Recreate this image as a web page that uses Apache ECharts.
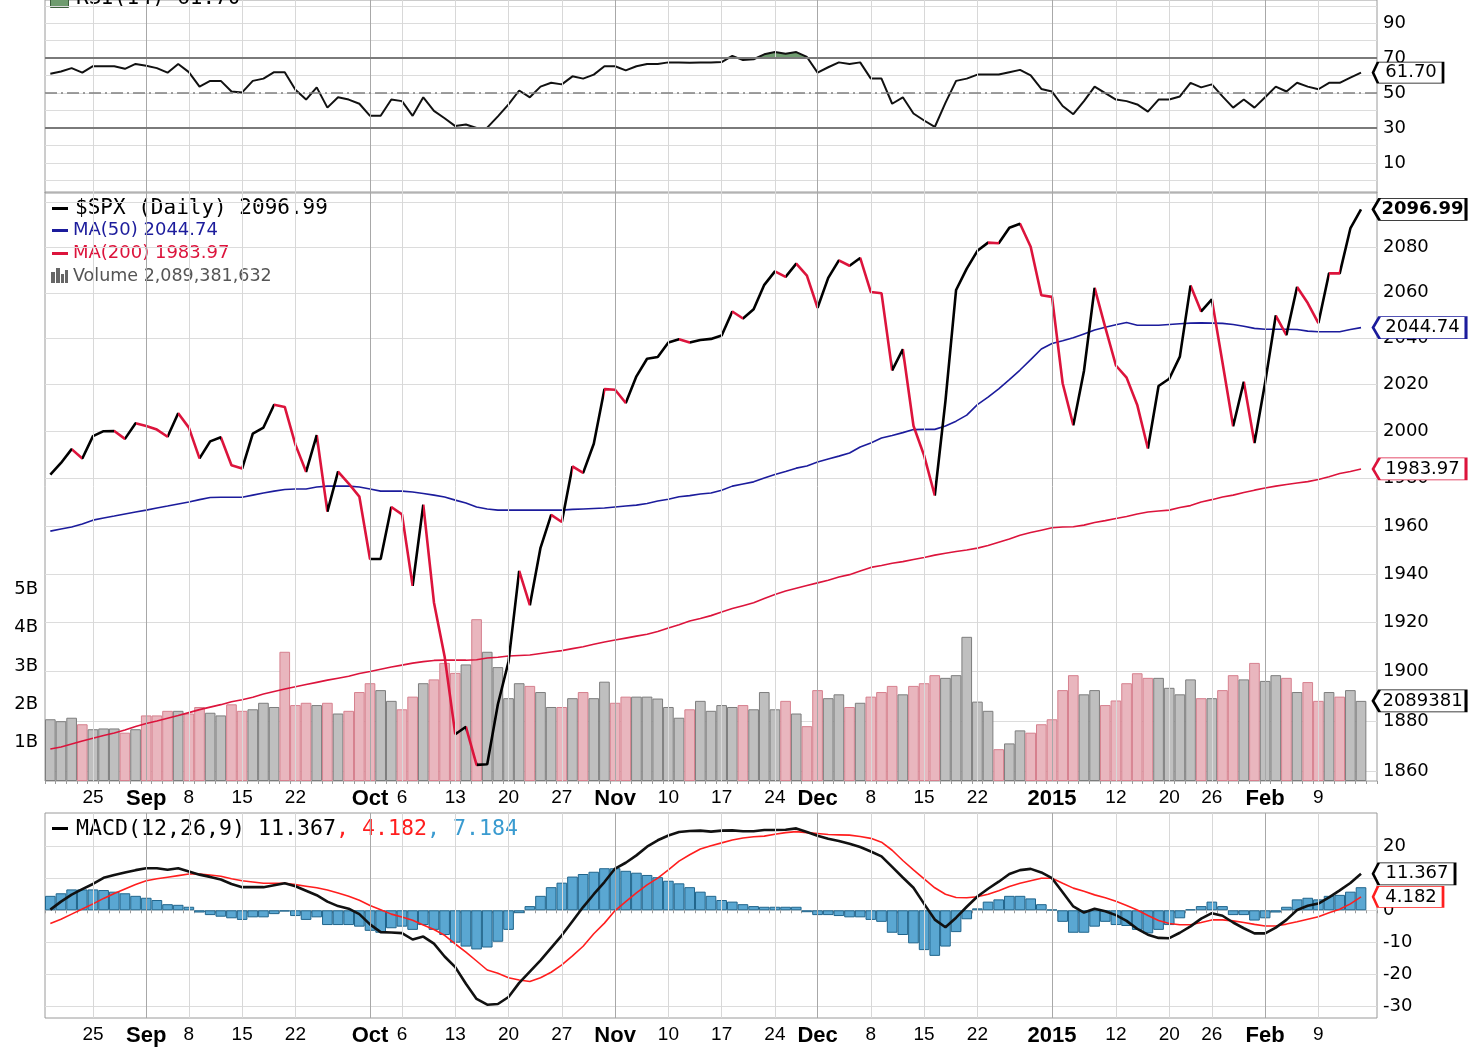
<!DOCTYPE html>
<html><head><meta charset="utf-8">
<script src="https://cdn.jsdelivr.net/npm/echarts/dist/echarts.min.js"></script>
<style>html,body{margin:0;padding:0;background:#fff}#c{width:1481px;height:1049px}</style>
</head><body><div id="c"></div>
<script>
const dates = ['2014-08-19','2014-08-20','2014-08-21','2014-08-22','2014-08-25','2014-08-26','2014-08-27','2014-08-28','2014-08-29',
'2014-09-02','2014-09-03','2014-09-04','2014-09-05','2014-09-08','2014-09-09','2014-09-10','2014-09-11','2014-09-12','2014-09-15','2014-09-16','2014-09-17','2014-09-18','2014-09-19','2014-09-22','2014-09-23','2014-09-24','2014-09-25','2014-09-26','2014-09-29','2014-09-30',
'2014-10-01','2014-10-02','2014-10-03','2014-10-06','2014-10-07','2014-10-08','2014-10-09','2014-10-10','2014-10-13','2014-10-14','2014-10-15','2014-10-16','2014-10-17','2014-10-20','2014-10-21','2014-10-22','2014-10-23','2014-10-24','2014-10-27','2014-10-28','2014-10-29','2014-10-30','2014-10-31',
'2014-11-03','2014-11-04','2014-11-05','2014-11-06','2014-11-07','2014-11-10','2014-11-11','2014-11-12','2014-11-13','2014-11-14','2014-11-17','2014-11-18','2014-11-19','2014-11-20','2014-11-21','2014-11-24','2014-11-25','2014-11-26','2014-11-28',
'2014-12-01','2014-12-02','2014-12-03','2014-12-04','2014-12-05','2014-12-08','2014-12-09','2014-12-10','2014-12-11','2014-12-12','2014-12-15','2014-12-16','2014-12-17','2014-12-18','2014-12-19','2014-12-22','2014-12-23','2014-12-24','2014-12-26','2014-12-29','2014-12-30','2014-12-31',
'2015-01-02','2015-01-05','2015-01-06','2015-01-07','2015-01-08','2015-01-09','2015-01-12','2015-01-13','2015-01-14','2015-01-15','2015-01-16','2015-01-20','2015-01-21','2015-01-22','2015-01-23','2015-01-26','2015-01-27','2015-01-28','2015-01-29','2015-01-30',
'2015-02-02','2015-02-03','2015-02-04','2015-02-05','2015-02-06','2015-02-09','2015-02-10','2015-02-11','2015-02-12','2015-02-13'];

const close = [1981.60,1986.51,1992.37,1988.40,1997.92,2000.02,2000.12,1996.74,2003.37,
2002.28,2000.72,1997.65,2007.71,2001.54,1988.44,1995.69,1997.45,1985.54,1984.13,1998.98,2001.57,2011.36,2010.40,1994.29,1982.77,1998.30,1965.99,1982.85,1977.80,1972.29,
1946.16,1946.17,1967.90,1964.82,1935.10,1968.89,1928.21,1906.13,1874.74,1877.70,1862.49,1862.76,1886.76,1904.01,1941.28,1927.11,1950.82,1964.58,1961.63,1985.05,1982.30,1994.65,2018.05,
2017.81,2012.10,2023.57,2031.21,2031.92,2038.26,2039.68,2038.25,2039.33,2039.82,2041.32,2051.80,2048.72,2052.75,2063.50,2069.41,2067.03,2072.83,2067.56,
2053.44,2066.55,2074.33,2071.92,2075.37,2060.31,2059.82,2026.14,2035.33,2002.33,1989.63,1972.74,2012.89,2061.23,2070.65,2078.54,2082.17,2081.88,2088.77,2090.57,2080.35,2058.90,
2058.20,2020.58,2002.61,2025.90,2062.14,2044.81,2028.26,2023.03,2011.27,1992.67,2019.42,2022.55,2032.12,2063.15,2051.82,2057.09,2029.55,2002.16,2021.25,1994.99,
2020.85,2050.03,2041.51,2062.52,2055.47,2046.74,2068.59,2068.53,2088.48,2096.99];

const ma50 = [1957.8,1958.7,1959.5,1960.8,1962.4,1963.3,1964.1,1965.0,1965.8,1966.6,
1967.5,1968.3,1969.2,1970.0,1971.0,1971.9,1972.0,1972.0,1972.0,1972.9,
1973.8,1974.6,1975.3,1975.5,1975.5,1976.3,1976.7,1976.7,1976.7,1976.3,
1975.5,1974.6,1974.6,1974.6,1974.2,1973.6,1972.9,1972.1,1970.8,1969.6,
1967.9,1967.1,1966.6,1966.6,1966.6,1966.6,1966.6,1966.6,1966.6,1966.9,
1967.1,1967.3,1967.5,1967.9,1968.3,1968.7,1969.4,1970.4,1971.2,1972.2,
1972.7,1973.4,1973.8,1975.0,1976.7,1977.6,1978.5,1980.1,1981.6,1982.9,
1984.3,1985.2,1986.9,1988.2,1989.4,1990.7,1993.3,1995.0,1997.1,1998.2,
1999.4,2000.7,2000.8,2000.8,2002.2,2004.3,2006.9,2011.4,2014.6,2018.2,
2022.2,2026.3,2030.8,2035.4,2037.8,2039.0,2040.3,2042.0,2043.7,2044.9,
2046.0,2047.0,2045.8,2045.8,2045.8,2046.1,2046.4,2046.7,2046.8,2046.7,
2046.6,2046.1,2045.3,2044.4,2044.0,2044.0,2044.0,2043.9,2043.2,2042.9,
2042.9,2042.9,2043.9,2044.74];

const ma200 = [1868.8,1869.6,1870.8,1872.0,1873.1,1874.2,1875.2,1876.4,1877.8,1879.0,
1880.0,1881.1,1882.2,1883.4,1884.6,1885.6,1886.6,1887.8,1888.6,1889.6,
1890.9,1891.9,1892.9,1893.8,1894.7,1895.6,1896.5,1897.3,1898.1,1899.2,
1900.0,1900.9,1901.8,1902.6,1903.4,1904.0,1904.5,1904.6,1904.6,1904.6,
1904.8,1905.5,1905.8,1906.3,1906.5,1906.7,1907.3,1907.9,1908.5,1909.3,
1910.1,1911.1,1912.0,1912.8,1913.6,1914.4,1915.2,1916.3,1917.7,1919.1,
1920.6,1921.6,1922.8,1924.3,1925.7,1926.9,1928.1,1929.8,1931.5,1932.9,
1934.1,1935.2,1936.3,1937.4,1938.7,1939.7,1941.2,1942.7,1943.5,1944.4,
1945.1,1946.0,1946.8,1947.8,1948.6,1949.3,1949.9,1950.7,1951.8,1953.2,
1954.5,1956.1,1957.2,1958.2,1959.2,1959.5,1959.6,1960.3,1961.4,1962.2,
1963.1,1963.9,1965.0,1965.8,1966.2,1966.6,1967.7,1968.5,1970.0,1971.0,
1972.1,1972.9,1974.0,1975.0,1975.9,1976.7,1977.4,1978.0,1978.6,1979.5,
1980.7,1982.0,1982.9,1983.97];

// volume in billions of shares
const volume = [1.61,1.56,1.65,1.48,1.35,1.37,1.37,1.26,1.35,1.71,
1.71,1.83,1.83,1.76,1.93,1.78,1.71,2.00,1.83,1.87,
2.04,1.93,3.37,1.98,2.04,1.98,2.04,1.76,1.83,2.32,
2.55,2.37,2.09,1.87,2.20,2.55,2.65,3.08,2.82,3.04,
4.22,3.37,2.97,2.16,2.55,2.48,2.32,1.93,1.93,2.16,
2.32,2.16,2.59,2.04,2.20,2.20,2.20,2.15,1.93,1.65,
1.87,2.09,1.83,1.98,1.93,1.98,1.87,2.32,1.87,2.09,
1.76,1.43,2.37,2.16,2.26,1.93,2.04,2.20,2.32,2.48,
2.26,2.48,2.55,2.76,2.69,2.76,3.76,2.07,1.83,0.83,
0.98,1.32,1.26,1.48,1.61,2.37,2.76,2.26,2.37,1.98,
2.10,2.55,2.81,2.69,2.69,2.43,2.26,2.65,2.16,2.16,
2.37,2.76,2.65,3.08,2.61,2.76,2.69,2.32,2.58,2.09,
2.32,2.20,2.37,2.089381632];

const rsi = [61.1,62.4,64.3,61.7,65.4,65.4,65.4,63.9,66.7,65.7,
64.3,61.7,66.7,62.0,53.7,57.0,57.0,50.9,50.4,57.0,
58.3,62.0,62.0,51.9,46.3,53.3,41.7,47.6,46.3,43.9,
37.0,37.0,46.3,45.4,37.0,47.6,39.8,35.6,31.1,32.0,
30.0,30.2,36.7,43.5,51.5,47.6,53.7,55.9,55.0,59.6,
58.3,60.6,65.4,65.4,63.0,65.4,66.7,66.7,67.6,67.6,
67.4,67.6,67.6,67.8,71.3,68.9,69.4,72.2,73.5,72.6,
73.5,70.7,61.7,64.8,67.6,66.7,67.6,58.3,58.3,43.9,
47.6,38.3,34.3,30.6,44.4,57.0,58.3,60.6,60.6,60.6,
62.0,63.3,60.2,52.4,50.9,42.6,37.9,45.4,53.7,50.0,
46.3,45.4,43.5,39.4,46.3,46.3,48.1,55.9,53.3,55.0,
48.1,41.7,46.3,41.7,47.6,53.7,50.9,55.9,53.7,52.2,
55.9,55.9,58.9,61.70];

const macd = [0.2,2.7,4.9,6.6,8.2,10.1,11.0,11.8,12.5,13.1,
13.1,12.6,13.1,12.1,11.1,10.4,9.6,8.2,7.2,7.2,
7.2,7.8,8.4,7.5,6.1,4.7,2.7,1.3,0.5,-1.2,
-4.4,-6.8,-6.9,-7.1,-9.1,-8.2,-10.4,-14.4,-17.7,-22.9,
-27.6,-29.4,-29.2,-27.0,-22.6,-19.1,-15.6,-11.7,-7.8,-3.4,
1.0,5.0,8.8,13.0,14.8,17.1,19.8,21.8,23.3,24.4,
24.7,24.8,24.5,24.8,24.9,24.6,24.6,25.0,25.0,25.1,
25.5,24.4,23.2,22.3,21.6,20.7,19.7,18.3,16.8,13.5,
10.2,7.0,2.0,-2.9,-5.3,-2.3,1.1,4.3,6.7,8.9,
11.3,12.5,12.9,11.8,10.0,5.6,1.2,-0.7,0.5,-0.3,
-1.5,-3.3,-5.8,-7.6,-8.6,-8.7,-7.0,-5.0,-2.6,-0.9,
-1.7,-3.8,-5.6,-7.2,-7.2,-5.4,-3.0,0.1,1.4,2.1,
4.0,6.2,8.5,11.367];

const signal = [-4.1,-2.8,-1.2,0.4,2.0,3.7,5.2,6.6,8.0,9.2,
9.8,10.3,10.8,11.3,11.3,11.0,10.6,9.8,9.2,8.8,
8.4,8.4,8.4,8.0,7.5,7.0,6.3,5.4,4.4,3.1,
1.5,0.2,-1.2,-2.1,-3.1,-4.6,-6.0,-7.8,-10.5,-13.0,
-15.8,-18.6,-19.6,-21.0,-21.7,-22.2,-21.0,-19.3,-17.0,-14.2,
-11.2,-7.3,-4.0,-0.1,2.7,5.4,7.9,10.0,12.6,15.3,
17.3,19.1,20.1,21.0,21.9,22.5,22.9,23.1,23.7,24.2,
24.5,24.2,23.9,23.6,23.5,23.4,23.0,22.4,21.2,18.7,
15.5,12.6,9.8,7.0,5.0,4.0,3.9,4.2,5.0,6.1,
7.4,8.4,9.2,10.0,10.0,8.4,6.9,5.9,4.8,3.9,
2.8,1.5,0.1,-1.6,-3.2,-4.1,-4.5,-4.5,-3.8,-3.0,
-3.0,-3.3,-3.8,-4.4,-4.9,-4.9,-4.3,-3.6,-2.8,-2.0,
-0.8,0.3,2.0,4.182];

const hist = [4.5,5.3,6.5,6.5,6.5,6.3,5.8,5.3,4.5,3.9,
3.2,1.9,1.7,1.1,-0.7,-1.5,-2.0,-2.5,-3.0,-2.2,
-2.2,-1.2,-0.4,-1.8,-3.0,-2.2,-4.6,-4.6,-4.6,-5.1,
-6.4,-7.0,-5.6,-5.1,-6.1,-4.6,-6.1,-7.7,-10.1,-11.3,
-12.2,-11.6,-9.8,-6.1,-0.9,1.3,4.5,7.2,8.6,10.5,
11.3,12.0,13.1,13.1,12.3,11.7,11.0,10.3,9.2,8.4,
7.2,5.8,4.5,3.2,2.7,1.9,1.3,1.1,1.1,1.1,
1.1,-0.6,-1.5,-1.5,-1.8,-2.2,-2.2,-3.0,-3.6,-7.0,
-7.7,-10.3,-12.4,-14.2,-11.3,-6.8,-2.8,0.6,2.7,3.4,
4.5,4.5,3.7,1.9,0.2,-3.6,-7.0,-7.0,-5.1,-3.6,
-4.6,-4.9,-6.1,-7.2,-6.1,-4.6,-2.5,0.3,1.3,2.7,
1.3,-1.5,-1.5,-3.2,-2.5,-0.7,1.1,3.4,3.9,3.4,
4.5,4.8,5.8,7.184];

// x-axis tick labels (index into dates -> text)
const tickIdx = [4,9,13,18,23,30,33,38,43,48,53,58,63,68,72,77,82,87,94,100,105,109,114,119];
const tickText = ['25','Sep','8','15','22','Oct','6','13','20','27','Nov','10','17','24','Dec','8','15','22','2015','12','20','26','Feb','9'];
const monthText = ['Sep','Oct','Nov','Dec','2015','Feb'];
const priceTicks = [1860,1880,1900,1920,1940,1960,1980,2000,2020,2040,2060,2080,2100];
const priceLabels = [1860,1880,1900,1920,1940,1960,1980,2000,2020,2040,2060,2080];
const volLabels = [1,2,3,4,5];
const rsiTicks = [0,10,20,30,40,50,60,70,80,90,100];
const rsiLabels = [10,30,50,70,90];
const macdTicks = [-30,-20,-10,0,10,20];
const macdLabels = [-30,-20,-10,0,10,20];

const lastVol = '2,089,381,632';
const N = dates.length;
const labelOf = {};
tickIdx.forEach((k, j) => { labelOf[k] = tickText[j]; });

const L = 45, W = 1332;
const RED = '#dc143c', NAVY = '#1c1c9c';

function xAx(grid, showLabels) {
  return {
    type: 'category', gridIndex: grid, data: dates, max: N, boundaryGap: true,
    axisLine: {show: false},
    axisTick: {show: showLabels, interval: 0, length: 3, lineStyle: {color: '#9a9a9a'}},
    axisLabel: {
      show: showLabels, interval: (i) => labelOf[i] !== undefined, margin: 7,
      color: '#000', fontFamily: 'Liberation Sans', fontSize: 19,
      formatter: (v, i) => { const t = labelOf[i]; if (t === undefined) return ''; return monthText.includes(t) ? '{b|' + t + '}' : t; },
      rich: {b: {fontFamily: 'Liberation Sans', fontWeight: 'bold', fontSize: 22, color: '#000'}}
    },
    splitLine: {show: false}
  };
}
const yLabel = {color: '#000', fontFamily: 'DejaVu Sans', fontSize: 18, margin: 6, formatter: v => String(v)};
const split = {show: true, lineStyle: {color: '#dcdcdc', width: 1}};

function vlines() {
  return {
    silent: true, symbol: ['none', 'none'], label: {show: false}, animation: false,
    data: tickIdx.map((k, j) => ({xAxis: dates[k], lineStyle: {type: 'solid', width: 1,
      color: monthText.includes(tickText[j]) ? '#a8a8a8' : '#d8d8d8'}}))
  };
}
function tag(y, text, border, w, h, extraLabel) {
  return {
    coord: [dates[N - 1], y],
    symbol: 'path://M0,10L7,0L100,0L100,20L7,20Z',
    symbolSize: [w, h], symbolOffset: [12 + w / 2, 0],
    itemStyle: {color: '#fff', borderColor: border, borderWidth: 1.5},
    label: Object.assign({show: true, position: 'inside', formatter: text, color: '#000',
      fontFamily: 'DejaVu Sans', fontSize: 18, offset: [3, 0]}, extraLabel || {})
  };
}
function mp(items) { return {silent: true, animation: false, symbolKeepAspect: false, data: items}; }

const volItems = volume.map((v, i) => {
  const down = i > 0 && close[i] < close[i - 1];
  return {value: v, itemStyle: down ? {color: '#e9b6be', borderColor: '#d6808e', borderWidth: 1}
                                    : {color: '#bfbfbf', borderColor: '#7d7d7d', borderWidth: 1}};
});
const downPieces = [];
for (let i = 1; i < N; i++) if (close[i] < close[i - 1]) downPieces.push({gt: i - 1, lte: i, color: RED});

const series = [
  // RSI panel
  {type: 'line', xAxisIndex: 0, yAxisIndex: 0, data: [], z: 1, markLine: vlines()},
  {type: 'line', xAxisIndex: 0, yAxisIndex: 0, data: rsi.map(v => Math.max(v, 70)), symbol: 'none',
   lineStyle: {width: 0, opacity: 0}, areaStyle: {origin: 70, color: '#6f9c6f', opacity: 1}, z: 2},
  {type: 'line', xAxisIndex: 0, yAxisIndex: 0, data: rsi, symbol: 'none', lineStyle: {color: '#111', width: 2}, z: 4,
   markLine: {silent: true, symbol: ['none', 'none'], label: {show: false}, animation: false, data: [
     {yAxis: 70, lineStyle: {color: '#7a7a7a', width: 2, type: 'solid'}},
     {yAxis: 30, lineStyle: {color: '#7a7a7a', width: 2, type: 'solid'}},
     {yAxis: 50, lineStyle: {color: '#808080', width: 1.5, type: [12, 4, 2, 4]}}]},
   markPoint: mp([tag(rsi[N - 1], '61.70', '#000', 70, 21)])},
  // price panel
  {type: 'line', xAxisIndex: 1, yAxisIndex: 1, data: [], z: 1, markLine: vlines()},
  {type: 'bar', xAxisIndex: 1, yAxisIndex: 2, data: volItems, barCategoryGap: '0%', z: 2,
   markPoint: mp([tag(volume[N - 1], '2089381632', '#000', 93, 22, {width: 84, overflow: 'truncate', ellipsis: ''})])},
  {type: 'line', xAxisIndex: 1, yAxisIndex: 1, data: ma200, symbol: 'none', lineStyle: {color: RED, width: 1.6}, z: 3,
   markPoint: mp([tag(ma200[N - 1], '1983.97', RED, 93, 22)])},
  {type: 'line', xAxisIndex: 1, yAxisIndex: 1, data: ma50, symbol: 'none', lineStyle: {color: NAVY, width: 1.6}, z: 3,
   markPoint: mp([tag(ma50[N - 1], '2044.74', NAVY, 93, 22)])},
  {type: 'line', xAxisIndex: 1, yAxisIndex: 1, data: close, symbol: 'none', lineStyle: {width: 2.6}, z: 4,
   markPoint: mp([tag(close[N - 1], '2096.99', '#000', 93, 22, {fontWeight: 'bold'})])},
  // MACD panel
  {type: 'line', xAxisIndex: 2, yAxisIndex: 3, data: [], z: 1, markLine: vlines()},
  {type: 'bar', xAxisIndex: 2, yAxisIndex: 3, data: hist, barCategoryGap: '0%', z: 2,
   itemStyle: {color: '#5aa7d2', borderColor: '#20658c', borderWidth: 1}},
  {type: 'line', xAxisIndex: 2, yAxisIndex: 3, data: signal, symbol: 'none', lineStyle: {color: '#ff1e1e', width: 1.6}, z: 3,
   markPoint: mp([tag(signal[N - 1], '4.182', '#ff1e1e', 70, 21)])},
  {type: 'line', xAxisIndex: 2, yAxisIndex: 3, data: macd, symbol: 'none', lineStyle: {color: '#111', width: 2.6}, z: 4,
   markPoint: mp([tag(macd[N - 1], '11.367', '#000', 82, 22)])}
];

const option = {
  animation: false,
  backgroundColor: '#fff',
  grid: [
    {left: L, width: W, top: -6, height: 199, show: true, borderColor: '#9a9a9a', borderWidth: 1},
    {left: L, width: W, top: 192, height: 589, show: true, borderColor: '#9a9a9a', borderWidth: 1},
    {left: L, width: W, top: 813, height: 205, show: true, borderColor: '#9a9a9a', borderWidth: 1}
  ],
  xAxis: [xAx(0, false), xAx(1, true), xAx(2, true)],
  yAxis: [
    {type: 'value', gridIndex: 0, position: 'right', min: -7.22, max: 103.33,
     axisLine: {show: false}, axisTick: {show: false, customValues: rsiTicks},
     axisLabel: Object.assign({customValues: rsiLabels}, yLabel), splitLine: split},
    {type: 'log', logBase: 10, gridIndex: 1, position: 'right', min: 1856.1, max: 2104.8,
     axisLine: {show: false}, axisTick: {show: false, customValues: priceTicks},
     axisLabel: Object.assign({customValues: priceLabels}, yLabel), splitLine: split},
    {type: 'value', gridIndex: 1, position: 'left', min: 0, max: 15.36,
     axisLine: {show: false}, axisTick: {show: false, customValues: volLabels},
     axisLabel: Object.assign({}, yLabel, {customValues: volLabels, formatter: v => v + 'B', margin: 7}), splitLine: {show: false}},
    {type: 'value', gridIndex: 2, position: 'right', min: -33.55, max: 30.3,
     axisLine: {show: false}, axisTick: {show: false, customValues: macdTicks},
     axisLabel: Object.assign({customValues: macdLabels}, yLabel), splitLine: split}
  ],
  visualMap: [{type: 'piecewise', show: false, seriesIndex: 7, dimension: 0, pieces: downPieces, outOfRange: {color: '#000'}}],
  graphic: [
    {type: 'rect', left: 50, top: -4, shape: {width: 18, height: 11}, style: {fill: '#6f9c6f', stroke: '#3d5f3d'}},
    {type: 'text', left: 76, top: -12, style: {text: 'RSI(14) 61.70', font: '21px "DejaVu Sans Mono"', fill: '#000'}},
    {type: 'rect', left: 52, top: 207, shape: {width: 16, height: 3}, style: {fill: '#000'}},
    {type: 'text', left: 75, top: 198, style: {text: '$SPX (Daily) 2096.99', font: '21px "DejaVu Sans Mono"', fill: '#000'}},
    {type: 'rect', left: 52, top: 229, shape: {width: 16, height: 3}, style: {fill: NAVY}},
    {type: 'text', left: 73, top: 221, style: {text: 'MA(50) 2044.74', font: '18px "DejaVu Sans"', fill: NAVY}},
    {type: 'rect', left: 52, top: 252, shape: {width: 16, height: 3}, style: {fill: RED}},
    {type: 'text', left: 73, top: 244, style: {text: 'MA(200) 1983.97', font: '18px "DejaVu Sans"', fill: RED}},
    {type: 'rect', left: 51, top: 272, shape: {width: 4, height: 11}, style: {fill: '#666'}},
    {type: 'rect', left: 56, top: 268, shape: {width: 4, height: 15}, style: {fill: '#666'}},
    {type: 'rect', left: 61, top: 274, shape: {width: 3, height: 9}, style: {fill: '#666'}},
    {type: 'rect', left: 65, top: 270, shape: {width: 3, height: 13}, style: {fill: '#666'}},
    {type: 'text', left: 73, top: 267, style: {text: 'Volume ' + lastVol, font: '17.5px "DejaVu Sans"', fill: '#555'}},
    {type: 'rect', left: 52, top: 827, shape: {width: 16, height: 3}, style: {fill: '#000'}},
    {type: 'text', left: 76, top: 818, style: {
      text: '{a|MACD(12,26,9) 11.367}{r|, 4.182}{s|, 7.184}',
      rich: {a: {font: '21.6px "DejaVu Sans Mono"', fill: '#000'}, r: {font: '21.6px "DejaVu Sans Mono"', fill: '#ff1e1e'}, s: {font: '21.6px "DejaVu Sans Mono"', fill: '#3a9bd0'}}}}
  ],
  series: series
};
const chart = echarts.init(document.getElementById('c'), null, {renderer: 'canvas'});
chart.setOption(option);
</script></body></html>
